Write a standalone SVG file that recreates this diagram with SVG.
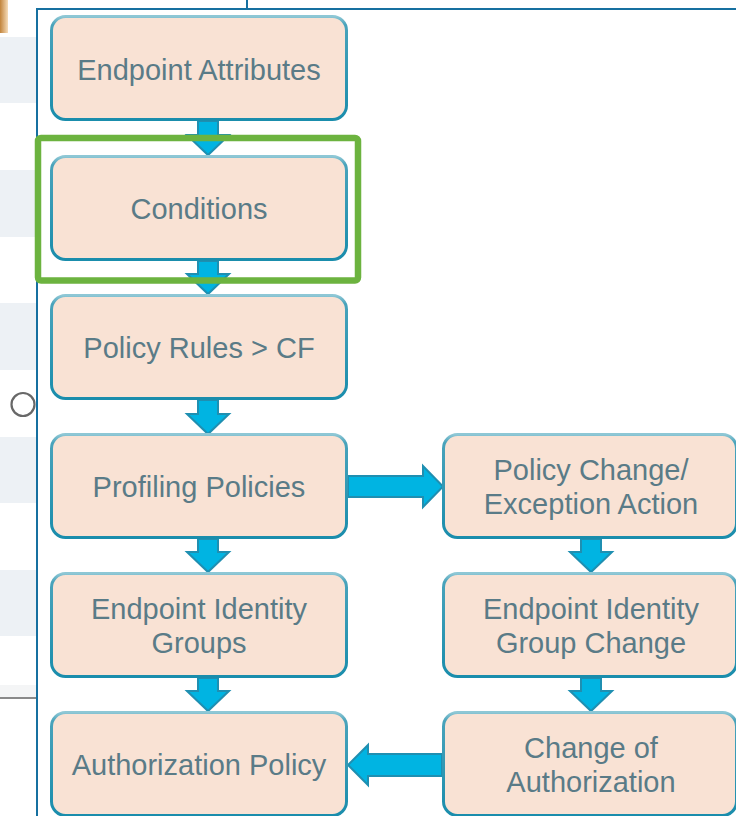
<svg xmlns="http://www.w3.org/2000/svg" width="736" height="816" viewBox="0 0 736 816">
  <defs>
    <linearGradient id="edge" x1="0" y1="0" x2="0" y2="1">
      <stop offset="0" stop-color="#8ec7d5"/>
      <stop offset="0.08" stop-color="#49a3bb"/>
      <stop offset="1" stop-color="#1a8dac"/>
    </linearGradient>
    <linearGradient id="tab" x1="0" y1="0" x2="1" y2="0">
      <stop offset="0" stop-color="#c2843c"/>
      <stop offset="1" stop-color="#f6dcb9"/>
    </linearGradient>
    <style>
      .box { fill: #f9e2d4; stroke: url(#edge); stroke-width: 3; }
      .lbl { font-family: "Liberation Sans", Arial, sans-serif; font-size: 29px; fill: #5a7b87; text-anchor: middle; }
      .arrow { fill: #00b4e2; stroke: #1f8fb1; stroke-width: 2; stroke-linejoin: miter; }
      .band { fill: #edf1f5; }
      .frame { stroke: #1670a0; stroke-width: 2; fill: none; }
    </style>
  </defs>

  <!-- page background and side panel -->
  <rect x="0" y="0" width="736" height="816" fill="#ffffff"/>
  <g id="side-panel">
    <rect x="0" y="0" width="8" height="33" fill="url(#tab)"/>
    <rect class="band" x="0" y="37" width="36" height="66"/>
    <rect class="band" x="0" y="170" width="36" height="67"/>
    <rect class="band" x="0" y="303" width="36" height="67"/>
    <rect class="band" x="0" y="437" width="36" height="66"/>
    <rect class="band" x="0" y="570" width="36" height="66"/>
    <rect x="0" y="685" width="36" height="12" fill="#f4f5f6"/>
    <line x1="0" y1="698" x2="36" y2="698" stroke="#8a8a8a" stroke-width="2"/>
    <circle cx="23" cy="404.5" r="11.5" fill="none" stroke="#686868" stroke-width="2.2"/>
  </g>
  <g id="frame">
    <line class="frame" x1="36" y1="9" x2="736" y2="9"/>
    <line class="frame" x1="37" y1="8" x2="37" y2="816"/>
    <line class="frame" x1="247" y1="0" x2="247" y2="9"/>
  </g>

  <!-- connectors -->
  <g id="connectors">
    <polygon class="arrow" points="198,121 218,121 218,135 229,135 208,155 187,135 198,135"/>
    <polygon class="arrow" points="198,261 218,261 218,274 229,274 208,294 187,274 198,274"/>
    <polygon class="arrow" points="198,400 218,400 218,414 229,414 208,434 187,414 198,414"/>
    <polygon class="arrow" points="198,539 218,539 218,552 229,552 208,572 187,552 198,552"/>
    <polygon class="arrow" points="198,678 218,678 218,691 229,691 208,711 187,691 198,691"/>
    <polygon class="arrow" points="581,539 601,539 601,552 612,552 591,572 570,552 581,552"/>
    <polygon class="arrow" points="581,678 601,678 601,691 612,691 591,711 570,691 581,691"/>
    <polygon class="arrow" points="348,476 423,476 423,466 443,486.5 423,507 423,497 348,497"/>
    <polygon class="arrow" points="442,754 368,754 368,745 348,765 368,785 368,776 442,776"/>
  </g>

  <!-- left column -->
  <g id="endpoint-attributes">
    <rect class="box" x="51.5" y="16.5" width="295" height="103" rx="14"/>
    <text class="lbl" x="199" y="80">Endpoint Attributes</text>
  </g>
  <g id="conditions">
    <rect class="box" x="51.5" y="156.5" width="295" height="103" rx="14"/>
    <text class="lbl" x="199" y="219">Conditions</text>
  </g>
  <g id="policy-rules">
    <rect class="box" x="51.5" y="295.5" width="295" height="103" rx="14"/>
    <text class="lbl" x="199" y="358">Policy Rules &gt; CF</text>
  </g>
  <g id="profiling-policies">
    <rect class="box" x="51.5" y="434.5" width="295" height="103" rx="14"/>
    <text class="lbl" x="199" y="497">Profiling Policies</text>
  </g>
  <g id="endpoint-identity-groups">
    <rect class="box" x="51.5" y="573.5" width="295" height="103" rx="14"/>
    <text class="lbl" x="199" y="619">Endpoint Identity</text>
    <text class="lbl" x="199" y="653">Groups</text>
  </g>
  <g id="authorization-policy">
    <rect class="box" x="51.5" y="712.5" width="295" height="103" rx="14"/>
    <text class="lbl" x="199" y="775">Authorization Policy</text>
  </g>

  <!-- right column -->
  <g id="policy-change">
    <rect class="box" x="443.5" y="434.5" width="293" height="103" rx="14"/>
    <text class="lbl" x="591" y="480">Policy Change/</text>
    <text class="lbl" x="591" y="514">Exception Action</text>
  </g>
  <g id="identity-group-change">
    <rect class="box" x="443.5" y="573.5" width="293" height="103" rx="14"/>
    <text class="lbl" x="591" y="619">Endpoint Identity</text>
    <text class="lbl" x="591" y="653">Group Change</text>
  </g>
  <g id="change-of-authorization">
    <rect class="box" x="443.5" y="712.5" width="293" height="103" rx="14"/>
    <text class="lbl" x="591" y="758">Change of</text>
    <text class="lbl" x="591" y="792">Authorization</text>
  </g>

  <!-- highlight around Conditions -->
  <rect id="highlight" x="38" y="138" width="320" height="142.5" rx="3" fill="none" stroke="#6cb33f" stroke-width="6.5"/>
</svg>
